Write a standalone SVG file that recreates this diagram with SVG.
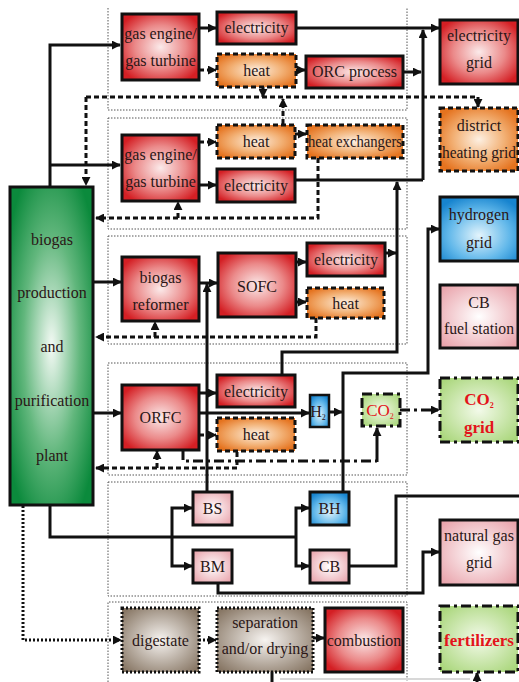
<svg xmlns="http://www.w3.org/2000/svg" width="519" height="682" viewBox="0 0 519 682">
<defs>
<radialGradient id="gRed" cx="0.5" cy="0.5" r="0.6"><stop offset="0" stop-color="#fbeaea"/><stop offset="0.55" stop-color="#eb8a8a"/><stop offset="1" stop-color="#d41f24"/></radialGradient>
<radialGradient id="gOr" cx="0.5" cy="0.5" r="0.6"><stop offset="0" stop-color="#fdf0e2"/><stop offset="0.55" stop-color="#f2b074"/><stop offset="1" stop-color="#e5731f"/></radialGradient>
<radialGradient id="gPink" cx="0.5" cy="0.5" r="0.65"><stop offset="0" stop-color="#ffffff"/><stop offset="1" stop-color="#e9a3ab"/></radialGradient>
<radialGradient id="gBlue" cx="0.5" cy="0.6" r="0.65"><stop offset="0" stop-color="#e3f4fc"/><stop offset="0.6" stop-color="#62b8ea"/><stop offset="1" stop-color="#1784cf"/></radialGradient>
<radialGradient id="gLG" cx="0.5" cy="0.5" r="0.65"><stop offset="0" stop-color="#f3faea"/><stop offset="1" stop-color="#a9d67a"/></radialGradient>
<radialGradient id="gTaupe" cx="0.5" cy="0.5" r="0.65"><stop offset="0" stop-color="#f7f4f1"/><stop offset="1" stop-color="#877664"/></radialGradient>
<radialGradient id="gGreen" cx="0.5" cy="0.5" r="0.62"><stop offset="0" stop-color="#f4faf5"/><stop offset="0.55" stop-color="#62b77d"/><stop offset="1" stop-color="#0b8a3c"/></radialGradient>
<marker id="a" viewBox="0 0 10 10" refX="9" refY="5" markerWidth="9" markerHeight="9" markerUnits="userSpaceOnUse" orient="auto"><path d="M0,0 L10,5 L0,10 z" fill="#111"/></marker>
<style>
.t{font-family:"Liberation Serif","Times New Roman",serif;font-size:16px;fill:#2a1616;text-anchor:middle}
.tr{font-family:"Liberation Serif","Times New Roman",serif;font-size:17px;fill:#e3141b;text-anchor:middle}
.b{font-weight:bold}
.sec{fill:none;stroke:#555;stroke-width:1;stroke-dasharray:1.5 1.5}
.dash{stroke:#111;stroke-width:3;stroke-dasharray:5 3}
.dot{stroke:#111;stroke-width:3;stroke-dasharray:2 2}
.dd{stroke:#111;stroke-width:3;stroke-dasharray:10 4 3 4}
.c{fill:none;stroke:#111;stroke-width:3}
.cd{fill:none;stroke:#111;stroke-width:3;stroke-dasharray:5 3}
.cdot{fill:none;stroke:#111;stroke-width:3;stroke-dasharray:2 2}
.cdd{fill:none;stroke:#111;stroke-width:3;stroke-dasharray:10 4 3 4}
</style>
</defs>
<rect width="519" height="682" fill="#ffffff"/>

<g id="sections">
<path class="sec" d="M108,8 V110 H407 V8"/>
<rect class="sec" x="108" y="118" width="299" height="111"/>
<rect class="sec" x="108" y="236" width="299" height="108"/>
<rect class="sec" x="108" y="363" width="299" height="112"/>
<rect class="sec" x="108" y="482" width="299" height="114"/>
<path class="sec" d="M108,682 V602 H407 V682"/>
</g>

<g id="connectors">
<path class="c" d="M50,187 V45 H120" marker-end="url(#a)"/>
<path class="c" d="M50,165 H120" marker-end="url(#a)"/>
<path class="c" d="M199,28 H216" marker-end="url(#a)"/>
<path class="c" d="M296,28 H439" marker-end="url(#a)"/>
<path class="c" d="M403,72 H421" marker-end="url(#a)"/>
<path class="c" d="M423,180 V30" marker-end="url(#a)"/>
<path class="cd" d="M199,70 H216" marker-end="url(#a)"/>
<path class="c" d="M296,70 H305" marker-end="url(#a)"/>
<path class="cd" d="M263,87 V97" marker-end="url(#a)"/>
<path class="cd" d="M86,97 V185" marker-end="url(#a)"/>
<path class="cd" d="M86,97 H478 V107" marker-end="url(#a)"/>
<path class="cd" d="M283,124 V99" marker-end="url(#a)"/>
<path class="cd" d="M199,142 H216" marker-end="url(#a)"/>
<path class="c" d="M295,134 H306" marker-end="url(#a)"/>
<path class="c" d="M199,185 H216" marker-end="url(#a)"/>
<path class="c" d="M295,180 H423"/>
<path class="cd" d="M318,158 V218 H96" marker-end="url(#a)"/>
<path class="cd" d="M178,218 V202" marker-end="url(#a)"/>
<path class="c" d="M282,375 V352 H397 V182" marker-end="url(#a)"/>
<path class="c" d="M94,282 H121" marker-end="url(#a)"/>
<path class="c" d="M199,283 H217" marker-end="url(#a)"/>
<path class="c" d="M207,492 V284" marker-end="url(#a)"/>
<path class="c" d="M296,262 H306" marker-end="url(#a)"/>
<path class="c" d="M296,302 H306" marker-end="url(#a)"/>
<path class="c" d="M385,253 H396" marker-end="url(#a)"/>
<path class="cd" d="M316,318 V337 H96" marker-end="url(#a)"/>
<path class="cd" d="M155,337 V322" marker-end="url(#a)"/>
<path class="c" d="M94,413 H121" marker-end="url(#a)"/>
<path class="c" d="M199,393 H216" marker-end="url(#a)"/>
<path class="c" d="M199,413 H309" marker-end="url(#a)"/>
<path class="cd" d="M199,435 H216" marker-end="url(#a)"/>
<path class="c" d="M329,412 H342" marker-end="url(#a)"/>
<path class="c" d="M343,492 V373 H428 V229 H439" marker-end="url(#a)"/>
<path class="cd" d="M237,452 V468 H96" marker-end="url(#a)"/>
<path class="cd" d="M157,468 V451" marker-end="url(#a)"/>
<path class="cdd" d="M183,450 V461 H377"/>
<path class="c" d="M377,462 V428" marker-end="url(#a)"/>
<path class="cdd" d="M400,410 H439" marker-end="url(#a)"/>
<path class="c" d="M50,506 V537 H296"/>
<path class="c" d="M172,537 V508 H192" marker-end="url(#a)"/>
<path class="c" d="M172,537 V566 H192" marker-end="url(#a)"/>
<path class="c" d="M296,537 V508 H309" marker-end="url(#a)"/>
<path class="c" d="M296,537 V566 H309" marker-end="url(#a)"/>
<path class="c" d="M349,566 H396 V496 H519"/>
<path class="c" d="M218,583 V593 H423 V552 H439" marker-end="url(#a)"/>
<path class="cdot" d="M23,506 V640 H121" marker-end="url(#a)"/>
<path class="cdot" d="M199,640 H216" marker-end="url(#a)"/>
<path class="c" d="M313,638 H324" marker-end="url(#a)"/>
<path class="c" d="M272,672 V682"/>
<path fill="none" stroke="#d8d8d8" stroke-width="2" d="M280,679 H470"/>
<path class="c" d="M477,682 V673" marker-end="url(#a)"/>
</g>

<g id="plant">
<rect x="10" y="187" width="83" height="318" fill="url(#gGreen)" stroke="#111" stroke-width="3"/>
<text class="t" x="52" y="245">biogas</text>
<text class="t" x="52" y="298">production</text>
<text class="t" x="52" y="352">and</text>
<text class="t" x="52" y="406">purification</text>
<text class="t" x="52" y="461">plant</text>
</g>

<g id="ge1"><rect x="122" y="14" width="77" height="66" fill="url(#gRed)" stroke="#111" stroke-width="3"/>
<text class="t" x="160.5" y="39">gas engine/</text><text class="t" x="160.5" y="66">gas turbine</text></g>
<g id="elec1"><rect x="217" y="12" width="79" height="32" fill="url(#gRed)" stroke="#111" stroke-width="3"/>
<text class="t" x="256.5" y="33">electricity</text></g>
<g id="heat1"><rect x="217" y="54" width="79" height="33" fill="url(#gOr)" class="dash"/>
<text class="t" x="256.5" y="76">heat</text></g>
<g id="orc"><rect x="306" y="56" width="97" height="32" fill="url(#gRed)" stroke="#111" stroke-width="3"/>
<text class="t" x="354.5" y="77">ORC process</text></g>
<g id="egrid"><rect x="440" y="20" width="78" height="64" fill="url(#gRed)" stroke="#111" stroke-width="3"/>
<text class="t" x="479" y="41">electricity</text><text class="t" x="479" y="68">grid</text></g>
<g id="dhgrid"><rect x="440" y="108" width="78" height="63" fill="url(#gOr)" class="dash"/>
<text class="t" x="479" y="131">district</text><text class="t" x="479" y="158" textLength="74" lengthAdjust="spacingAndGlyphs">heating grid</text></g>

<g id="heat2"><rect x="217" y="125" width="78" height="33" fill="url(#gOr)" class="dash"/>
<text class="t" x="256" y="147">heat</text></g>
<g id="hx"><rect x="307" y="125" width="96" height="33" fill="url(#gOr)" class="dash"/>
<text class="t" x="355" y="147" textLength="94" lengthAdjust="spacingAndGlyphs">heat exchangers</text></g>
<g id="ge2"><rect x="122" y="135" width="77" height="66" fill="url(#gRed)" stroke="#111" stroke-width="3"/>
<text class="t" x="160.5" y="160">gas engine/</text><text class="t" x="160.5" y="187">gas turbine</text></g>
<g id="elec2"><rect x="217" y="169" width="78" height="33" fill="url(#gRed)" stroke="#111" stroke-width="3"/>
<text class="t" x="256" y="191">electricity</text></g>

<g id="h2grid"><rect x="440" y="197" width="78" height="64" fill="url(#gBlue)" stroke="#111" stroke-width="3"/>
<text class="t" x="479" y="220">hydrogen</text><text class="t" x="479" y="248">grid</text></g>
<g id="cbfuel"><rect x="440" y="285" width="78" height="63" fill="url(#gPink)" stroke="#111" stroke-width="3"/>
<text class="t" x="479" y="308">CB</text><text class="t" x="479" y="334" textLength="70" lengthAdjust="spacingAndGlyphs">fuel station</text></g>

<g id="reformer"><rect x="122" y="257" width="77" height="64" fill="url(#gRed)" stroke="#111" stroke-width="3"/>
<text class="t" x="160.5" y="283">biogas</text><text class="t" x="160.5" y="310">reformer</text></g>
<g id="sofc"><rect x="218" y="253" width="78" height="64" fill="url(#gRed)" stroke="#111" stroke-width="3"/>
<text class="t" x="257" y="292">SOFC</text></g>
<g id="elec3"><rect x="307" y="243" width="78" height="33" fill="url(#gRed)" stroke="#111" stroke-width="3"/>
<text class="t" x="346" y="265">electricity</text></g>
<g id="heat3"><rect x="307" y="288" width="77" height="30" fill="url(#gOr)" class="dash"/>
<text class="t" x="345.5" y="309">heat</text></g>

<g id="orfc"><rect x="122" y="385" width="77" height="65" fill="url(#gRed)" stroke="#111" stroke-width="3"/>
<text class="t" x="160.5" y="423">ORFC</text></g>
<g id="elec4"><rect x="217" y="375" width="78" height="32" fill="url(#gRed)" stroke="#111" stroke-width="3"/>
<text class="t" x="256" y="397">electricity</text></g>
<g id="heat4"><rect x="217" y="418" width="78" height="33" fill="url(#gOr)" class="dash"/>
<text class="t" x="256" y="440">heat</text></g>
<g id="h2"><rect x="310" y="395" width="19" height="32" fill="url(#gBlue)" stroke="#111" stroke-width="2.5"/>
<text class="t" x="318" y="417">H<tspan font-size="8" dy="3">2</tspan></text></g>
<g id="co2"><rect x="362" y="394" width="38" height="32" fill="url(#gLG)" class="dd"/>
<text class="tr" x="380" y="416">CO<tspan font-size="8" dy="3">2</tspan></text></g>
<g id="co2grid"><rect x="440" y="378" width="78" height="64" fill="url(#gLG)" class="dd"/>
<text class="tr b" x="479" y="405">CO<tspan font-size="8" dy="3">2</tspan></text><text class="tr b" x="479" y="433">grid</text></g>

<g id="bs"><rect x="193" y="492" width="39" height="33" fill="url(#gPink)" stroke="#111" stroke-width="3"/>
<text class="t" x="212.5" y="514">BS</text></g>
<g id="bm"><rect x="193" y="550" width="39" height="33" fill="url(#gPink)" stroke="#111" stroke-width="3"/>
<text class="t" x="212.5" y="572">BM</text></g>
<g id="bh"><rect x="310" y="492" width="39" height="33" fill="url(#gBlue)" stroke="#111" stroke-width="3"/>
<text class="t" x="329.5" y="514">BH</text></g>
<g id="cb"><rect x="310" y="550" width="39" height="33" fill="url(#gPink)" stroke="#111" stroke-width="3"/>
<text class="t" x="329.5" y="572">CB</text></g>
<g id="nggrid"><rect x="440" y="520" width="78" height="65" fill="url(#gPink)" stroke="#111" stroke-width="3"/>
<text class="t" x="479" y="541" textLength="70" lengthAdjust="spacingAndGlyphs">natural gas</text><text class="t" x="479" y="568">grid</text></g>

<g id="digestate"><rect x="122" y="608" width="77" height="64" fill="url(#gTaupe)" class="dot"/>
<text class="t" x="160.5" y="646">digestate</text></g>
<g id="separation"><rect x="217" y="608" width="96" height="64" fill="url(#gTaupe)" class="dot"/>
<text class="t" x="265" y="628">separation</text><text class="t" x="265" y="654">and/or drying</text></g>
<g id="combustion"><rect x="325" y="608" width="78" height="64" fill="url(#gRed)" stroke="#111" stroke-width="3"/>
<text class="t" x="364" y="646">combustion</text></g>
<g id="fertilizers"><rect x="440" y="606" width="78" height="66" fill="url(#gLG)" class="dd"/>
<text class="tr b" x="479" y="646">fertilizers</text></g>
</svg>
